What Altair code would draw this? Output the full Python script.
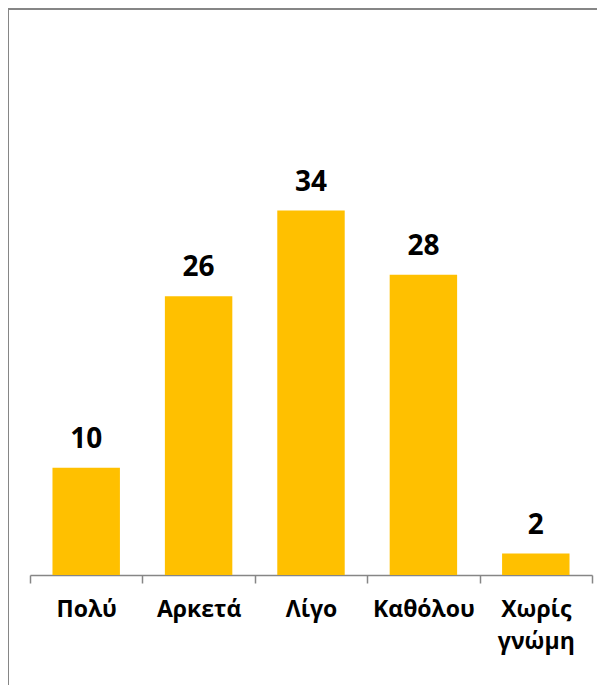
import altair as alt
import pandas as pd

categories = ["Πολύ", "Αρκετά", "Λίγο", "Καθόλου", "Χωρίς\nγνώμη"]
values = [10, 26, 34, 28, 2]

df = pd.DataFrame({"cat": categories, "val": values})

W, H = 589, 677
BASE = 567
PPU = 10.72
YMAX = 40

x = alt.X(
    "cat:N",
    sort=None,
    scale=alt.Scale(range=[22, 584], paddingInner=0, paddingOuter=0),
    axis=alt.Axis(
        title=None,
        orient="bottom",
        offset=-(H - BASE),
        labelAngle=0,
        labelFont="Open Sans",
        labelFontWeight="bold",
        labelFontSize=23,
        labelColor="black",
        labelPadding=15,
        labelLineHeight=32,
        labelExpr="split(datum.label, '\\n')",
        domainColor="#868686",
        domainWidth=1.5,
        tickColor="#868686",
        tickWidth=1.5,
        tickSize=8,
        tickBand="extent",
        grid=False,
    ),
)
y = alt.Y(
    "val:Q",
    scale=alt.Scale(domain=[0, YMAX], range=[BASE, BASE - PPU * YMAX], nice=False, zero=True),
    axis=None,
)

bars = alt.Chart(df).mark_bar(color="#FFC000", width=alt.RelativeBandSize(0.6)).encode(x=x, y=y)
labels = alt.Chart(df).mark_text(
    font="Open Sans", fontWeight="bold", fontSize=28, color="black",
    baseline="alphabetic", dy=-20
).encode(x=alt.X("cat:N", sort=None), y="val:Q", text="val:Q")

frame_left = alt.Chart(df).mark_rule(color="#868686", strokeWidth=2).encode(
    x=alt.value(0), y=alt.value(0), y2=alt.value(H)
)
frame_top = alt.Chart(df).mark_rule(color="#868686", strokeWidth=2).encode(
    x=alt.value(0), x2=alt.value(W), y=alt.value(1)
)

chart = alt.layer(bars, labels, frame_left, frame_top).properties(
    width=W, height=H, padding=0, autosize=alt.AutoSizeParams(type="none")
).configure_view(stroke=None)

chart.save("out.html", embed_options={"renderer": "svg", "actions": False})
